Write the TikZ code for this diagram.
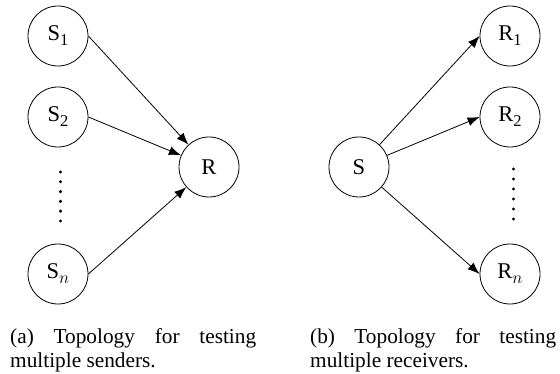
\documentclass[tikz,border=0pt]{standalone}
\usepackage{fontspec}
\setmainfont{Liberation Serif}
\usetikzlibrary{arrows.meta}
\newcommand\subidx[1]{\raisebox{-5pt}{\fontsize{16.5}{16.5}\selectfont #1}}
\tikzset{
  vert/.style={circle, draw, line width=0.8pt, minimum size=60pt, inner sep=0pt,
    font=\fontsize{22.5}{26}\selectfont},
  arr/.style={line width=0.8pt, -{Latex[length=12pt,width=9pt]}},
  captext/.style={anchor=base west, inner sep=0pt, text width=246pt, align=justify,
    font=\fontsize{21.3}{23.5}\selectfont},
  dotmark/.style={fill=black}
}
\begin{document}
\begin{tikzpicture}[x=1pt,y=-1pt]
\useasboundingbox (0,0) rectangle (560,374);
% left: multiple senders
\node[vert] (S1) at (58,36) {S\subidx{1}};
\node[vert] (S2) at (58,117) {S\subidx{2}};
\node[vert] (Sn) at (58,274) {S\subidx{$n$}};
\node[vert] (R) at (209,167) {R};
\foreach \k in {0,...,5} {\fill[dotmark] (60.5,{172+9.8*\k}) circle (1.7pt);}
\draw[arr] (S1.east) -- (R);
\draw[arr] (S2.east) -- (R);
\draw[arr] (Sn.east) -- (R);
% right: multiple receivers
\node[vert] (S) at (359,167) {S};
\node[vert] (R1) at (510,36) {R\subidx{1}};
\node[vert] (R2) at (510,117) {R\subidx{2}};
\node[vert] (Rn) at (510,274) {R\subidx{$n$}};
\foreach \k in {0,...,5} {\fill[dotmark] (513.5,{169+10*\k}) circle (1.7pt);}
\draw[arr] (S) -- (R1.west);
\draw[arr] (S) -- (R2.west);
\draw[arr] (S) -- (Rn.west);
% captions
\node[captext] (capa) at (10,344) {(a) Topology for testing \mbox{multiple} senders.};
\node[captext] (capb) at (310,344) {(b) Topology for testing \mbox{multiple} receivers.};
\end{tikzpicture}
\end{document}
